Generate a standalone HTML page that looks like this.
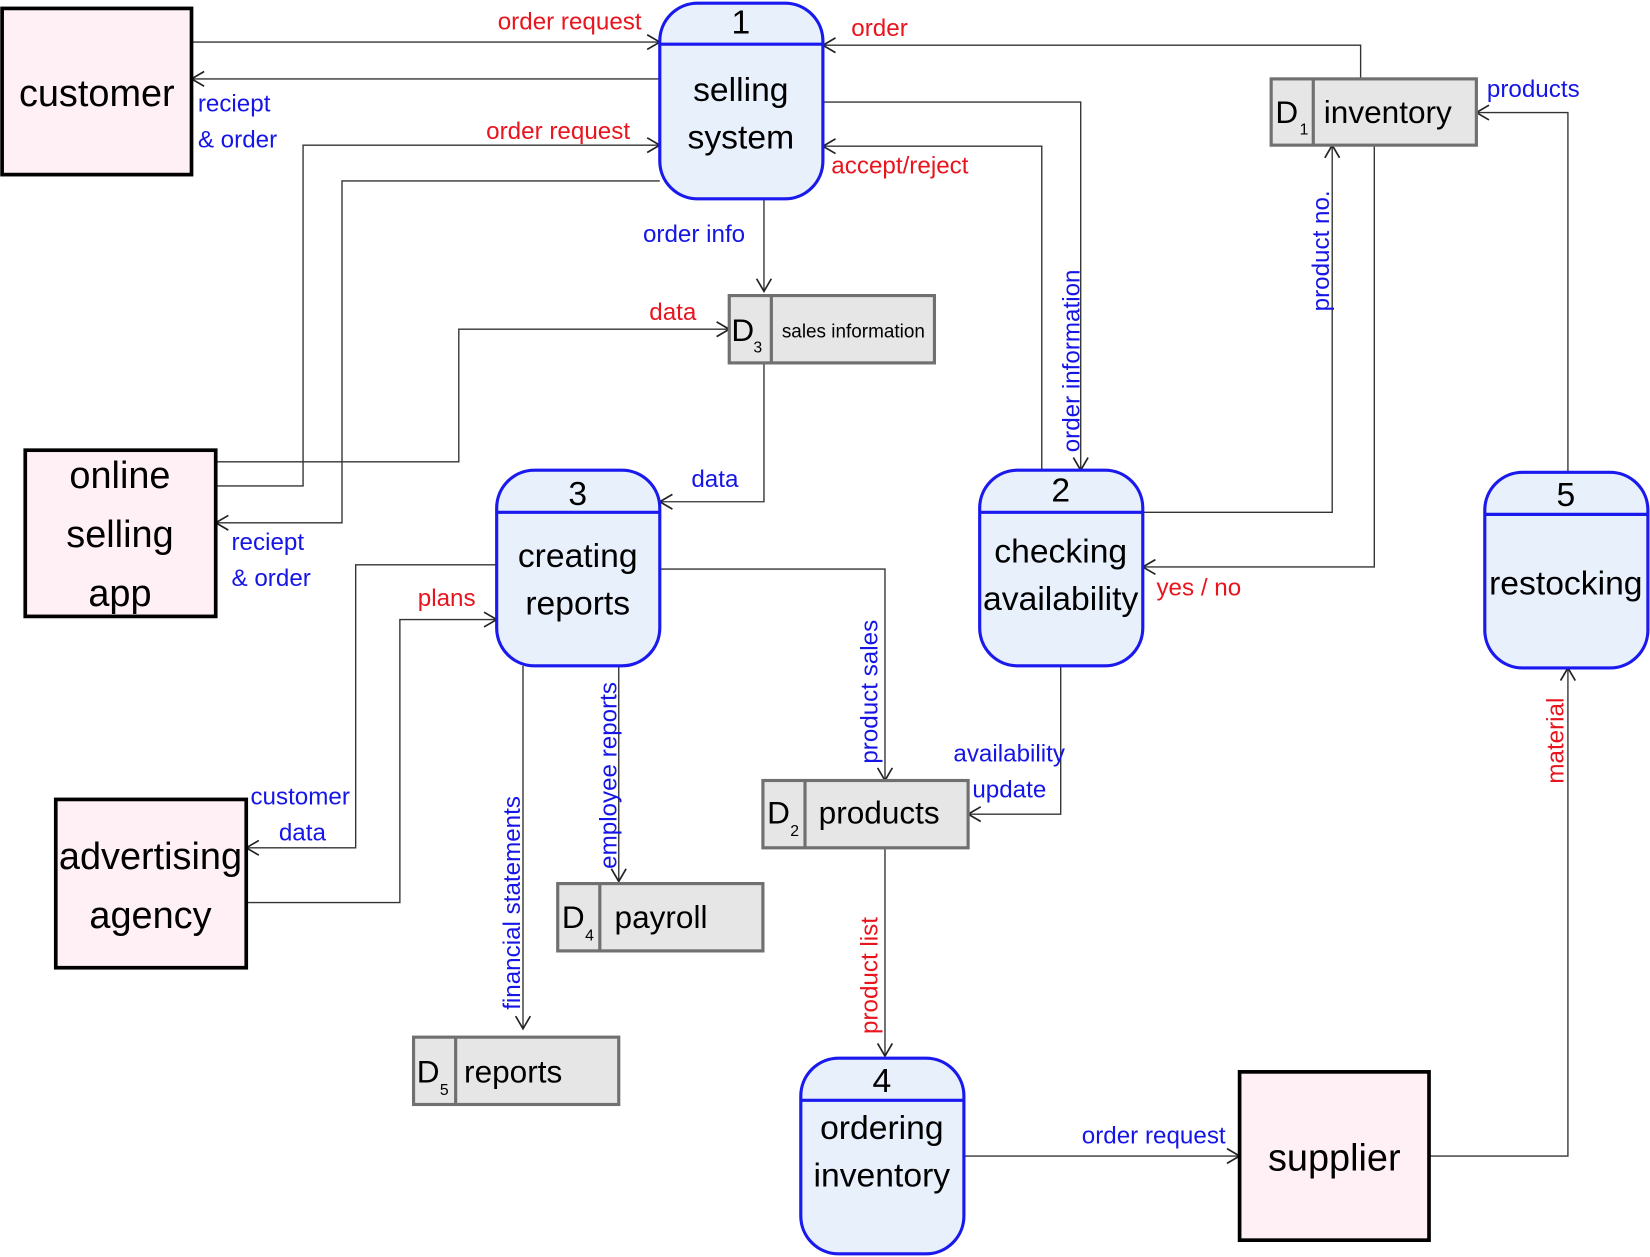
<!DOCTYPE html>
<html><head><meta charset="utf-8"><style>
html,body{margin:0;padding:0;background:#fff;}
svg{display:block;}
text{font-family:"Liberation Sans",sans-serif;}
.r{fill:#e8141e;font-size:23px;}
.b{fill:#1515e6;font-size:23px;}
.ln{fill:none;stroke:#333;stroke-width:1.3;}
.ent{fill:#fff0f5;stroke:#000;stroke-width:3.5;}
.pr{fill:#e8f0fc;stroke:#1a1aee;stroke-width:3;}
.st{fill:#e6e6e6;stroke:#707070;stroke-width:3;}
.big{font-size:36px;fill:#000;text-anchor:middle;}
.pt{font-size:32px;fill:#000;text-anchor:middle;}
.sd{font-size:30px;fill:#000;}
</style></head><body>
<svg width="1650" height="1257" viewBox="0 0 1568 1195" preserveAspectRatio="none" xmlns="http://www.w3.org/2000/svg">
<defs>
<marker id="a" markerWidth="16" markerHeight="16" refX="14" refY="8" orient="auto" markerUnits="userSpaceOnUse">
<path d="M2,1 L14,8 L2,15" fill="none" stroke="#222" stroke-width="1.6"/>
</marker>
</defs>

<!-- connectors -->
<g class="ln" marker-end="url(#a)">
<path d="M182,40 H627"/>
<path d="M627,75 H182"/>
<path d="M205,462 H288 V138 H627"/>
<path d="M627,172 H325 V497 H205"/>
<path d="M205,439 H436 V313 H693"/>
<path d="M726,189 V277"/>
<path d="M726,345 V477 H627"/>
<path d="M782,97 H1027 V447"/>
<path d="M990,447 V139 H782"/>
<path d="M1293,75 V43 H782"/>
<path d="M1086,487 H1266 V138"/>
<path d="M1306,138 V539 H1086"/>
<path d="M1490,449 V107 H1403"/>
<path d="M1358,1099 H1490 V635"/>
<path d="M916,1099 H1178"/>
<path d="M841,806 V1004"/>
<path d="M627,541 H841 V742"/>
<path d="M1008,633 V774 H920"/>
<path d="M588,633 V838"/>
<path d="M497,633 V978"/>
<path d="M472,537 H338 V806 H234"/>
<path d="M234,858 H380 V589 H472"/>
</g>

<!-- entities -->
<rect class="ent" x="2" y="8" width="180" height="158"/>
<text class="big" x="92" y="101" font-size="40">customer</text>
<rect class="ent" x="24" y="428" width="181" height="158"/>
<text class="big" x="114" y="464">online</text>
<text class="big" x="114" y="520">selling</text>
<text class="big" x="114" y="576">app</text>
<rect class="ent" x="53" y="760" width="181" height="160"/>
<text class="big" x="143" y="826">advertising</text>
<text class="big" x="143" y="882">agency</text>
<rect class="ent" x="1178" y="1019" width="180" height="160"/>
<text class="big" x="1268" y="1113" font-size="40">supplier</text>

<!-- processes -->
<g>
<rect class="pr" x="627" y="3" width="155" height="186" rx="36"/>
<line x1="627" y1="42" x2="782" y2="42" stroke="#1a1aee" stroke-width="3"/>
<text class="pt" x="704" y="32" font-size="30">1</text>
<text class="pt" x="704" y="96">selling</text>
<text class="pt" x="704" y="141">system</text>

<rect class="pr" x="472" y="447" width="155" height="186" rx="36"/>
<line x1="472" y1="487" x2="627" y2="487" stroke="#1a1aee" stroke-width="3"/>
<text class="pt" x="549" y="480" font-size="30">3</text>
<text class="pt" x="549" y="539">creating</text>
<text class="pt" x="549" y="584">reports</text>

<rect class="pr" x="931" y="447" width="155" height="186" rx="36"/>
<line x1="931" y1="487" x2="1086" y2="487" stroke="#1a1aee" stroke-width="3"/>
<text class="pt" x="1008" y="477" font-size="30">2</text>
<text class="pt" x="1008" y="535">checking</text>
<text class="pt" x="1008" y="580" font-size="31">availability</text>

<rect class="pr" x="1411" y="449" width="155" height="186" rx="36"/>
<line x1="1411" y1="489" x2="1566" y2="489" stroke="#1a1aee" stroke-width="3"/>
<text class="pt" x="1488" y="481" font-size="30">5</text>
<text class="pt" x="1488" y="565" font-size="31">restocking</text>

<rect class="pr" x="761" y="1006" width="155" height="186" rx="36"/>
<line x1="761" y1="1046" x2="916" y2="1046" stroke="#1a1aee" stroke-width="3"/>
<text class="pt" x="838" y="1038" font-size="30">4</text>
<text class="pt" x="838" y="1083">ordering</text>
<text class="pt" x="838" y="1128">inventory</text>
</g>

<!-- stores -->
<rect class="st" x="1208" y="75" width="195" height="63"/>
<line x1="1248" y1="75" x2="1248" y2="138" stroke="#707070" stroke-width="3"/>
<text class="sd" x="1212" y="117">D</text><text x="1235" y="128" font-size="15">1</text>
<text class="sd" x="1258" y="117">inventory</text>

<rect class="st" x="693" y="281" width="195" height="64"/>
<line x1="733" y1="281" x2="733" y2="345" stroke="#707070" stroke-width="3"/>
<text class="sd" x="695" y="324">D</text><text x="716" y="335" font-size="15">3</text>
<text x="743" y="321" font-size="18">sales information</text>

<rect class="st" x="725" y="742" width="195" height="64"/>
<line x1="765" y1="742" x2="765" y2="806" stroke="#707070" stroke-width="3"/>
<text class="sd" x="729" y="783">D</text><text x="751" y="795" font-size="15">2</text>
<text class="sd" x="778" y="783">products</text>

<rect class="st" x="530" y="840" width="195" height="64"/>
<line x1="570" y1="840" x2="570" y2="904" stroke="#707070" stroke-width="3"/>
<text class="sd" x="534" y="882">D</text><text x="556" y="894" font-size="15">4</text>
<text class="sd" x="584" y="882">payroll</text>

<rect class="st" x="393" y="986" width="195" height="64"/>
<line x1="433" y1="986" x2="433" y2="1050" stroke="#707070" stroke-width="3"/>
<text class="sd" x="396" y="1029">D</text><text x="418" y="1041" font-size="15">5</text>
<text class="sd" x="441" y="1029">reports</text>

<!-- labels -->
<text class="r" x="473" y="28">order request</text>
<text class="b" x="188" y="106">reciept</text>
<text class="b" x="188" y="140">&amp; order</text>
<text class="r" x="462" y="132">order request</text>
<text class="b" x="220" y="523">reciept</text>
<text class="b" x="220" y="557">&amp; order</text>
<text class="r" x="617" y="304">data</text>
<text class="b" x="611" y="230">order info</text>
<text class="b" x="657" y="463">data</text>
<text class="r" x="809" y="34">order</text>
<text class="r" x="790" y="165">accept/reject</text>
<text class="r" x="1099" y="566">yes / no</text>
<text class="b" x="1413" y="92">products</text>
<text class="b" x="1028" y="1087">order request</text>
<text class="b" x="906" y="724">availability</text>
<text class="b" x="924" y="758">update</text>
<text class="b" x="238" y="765">customer</text>
<text class="b" x="265" y="799">data</text>
<text class="r" x="397" y="576">plans</text>
<text class="b" transform="translate(1026,430) rotate(-90)">order information</text>
<text class="b" transform="translate(1263,296) rotate(-90)">product no.</text>
<text class="r" transform="translate(1486,745) rotate(-90)">material</text>
<text class="r" transform="translate(834,983) rotate(-90)">product list</text>
<text class="b" transform="translate(834,726) rotate(-90)">product sales</text>
<text class="b" transform="translate(586,826) rotate(-90)" font-size="16">employee reports</text>
<text class="b" transform="translate(494,960) rotate(-90)">financial statements</text>
</svg>
</body></html>
